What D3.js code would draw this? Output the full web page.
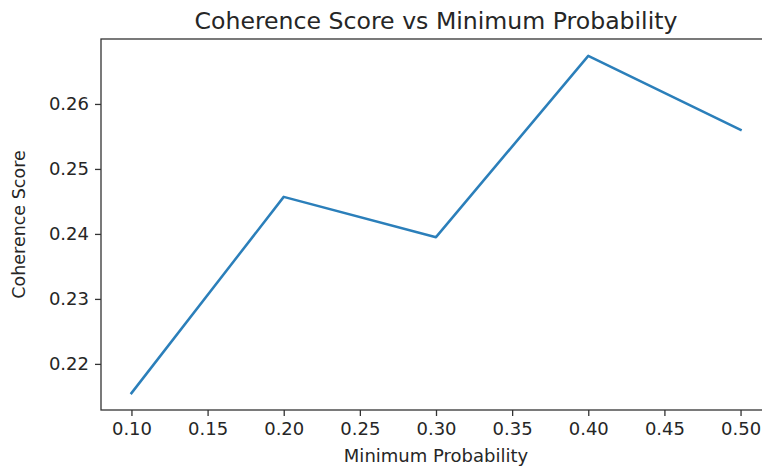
<!DOCTYPE html>
<html>
<head>
<meta charset="utf-8">
<script src="https://cdn.jsdelivr.net/npm/d3@7"></script>
<style>
  html, body { margin: 0; padding: 0; background: #fff; }
  svg { display: block; }
  text { font-family: "DejaVu Sans", sans-serif; fill: #262626; }
</style>
</head>
<body>
<svg id="chart" width="762" height="468"></svg>
<script>
// Coherence score measured at each minimum-probability setting
const minProbability = [0.10, 0.20, 0.30, 0.40, 0.50];
const coherenceScore = [0.2155, 0.2457, 0.2395, 0.2674, 0.2560];
const xTickValues = [0.10, 0.15, 0.20, 0.25, 0.30, 0.35, 0.40, 0.45, 0.50];
const yTickValues = [0.22, 0.23, 0.24, 0.25, 0.26];

const titleText = "Coherence Score vs Minimum Probability";
const xLabelText = "Minimum Probability";
const yLabelText = "Coherence Score";

const svg = d3.select("#chart");
const W = 762, H = 468;
const margin = { left: 101, top: 39, right: -9, bottom: 58 };
const plotW = W - margin.left - margin.right;
const plotH = H - margin.top - margin.bottom;

// 5% padding around the data range on both axes
function padded(vals) {
  const [lo, hi] = d3.extent(vals);
  const pad = (hi - lo) * 0.05;
  return [lo - pad, hi + pad];
}

const x = d3.scaleLinear().domain(padded(minProbability)).range([0, plotW]);
const y = d3.scaleLinear().domain(padded(coherenceScore)).range([plotH, 0]);

const g = svg.append("g").attr("transform", `translate(${margin.left},${margin.top})`);

const tickSize = 6;
const tickFont = "18px";

// x axis
const xAxis = g.append("g")
  .attr("transform", `translate(0,${plotH})`)
  .call(d3.axisBottom(x).tickValues(xTickValues).tickFormat(d3.format(".2f"))
    .tickSize(tickSize).tickPadding(6));
xAxis.selectAll("text").style("font-size", tickFont).attr("fill", "#262626");

// y axis
const yAxis = g.append("g")
  .call(d3.axisLeft(y).tickValues(yTickValues).tickFormat(d3.format(".2f"))
    .tickSize(tickSize).tickPadding(6));
yAxis.selectAll("text").style("font-size", tickFont).attr("fill", "#262626");

[xAxis, yAxis].forEach(a => {
  a.select(".domain").remove();
  a.selectAll(".tick line").attr("stroke", "#333").attr("stroke-width", 1.3);
});

// frame around the plotting area
g.append("rect")
  .attr("x", 0).attr("y", 0)
  .attr("width", plotW).attr("height", plotH)
  .attr("fill", "none").attr("stroke", "#333").attr("stroke-width", 1.3);

// data line
const line = d3.line()
  .x((d, i) => x(minProbability[i]))
  .y(d => y(d));

g.append("path")
  .datum(coherenceScore)
  .attr("fill", "none")
  .attr("stroke", "#2b7fba")
  .attr("stroke-width", 2.5)
  .attr("stroke-linejoin", "round")
  .attr("stroke-linecap", "square")
  .attr("d", line);

// title and axis labels
svg.append("text")
  .attr("x", margin.left + plotW / 2).attr("y", 29)
  .attr("text-anchor", "middle")
  .style("font-size", "23.6px")
  .text(titleText);

svg.append("text")
  .attr("x", margin.left + plotW / 2).attr("y", 462)
  .attr("text-anchor", "middle")
  .style("font-size", "18px")
  .text(xLabelText);

svg.append("text")
  .attr("transform", `translate(25,${margin.top + plotH / 2}) rotate(-90)`)
  .attr("text-anchor", "middle")
  .style("font-size", "17.5px")
  .text(yLabelText);
</script>
</body>
</html>
